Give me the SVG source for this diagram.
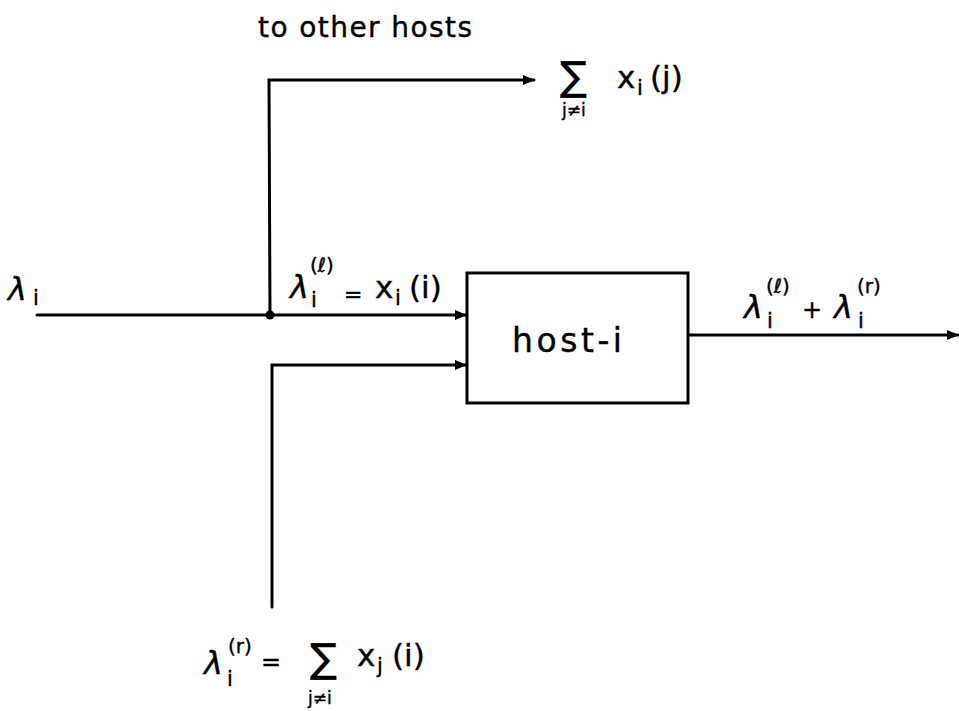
<svg xmlns="http://www.w3.org/2000/svg" width="959" height="711" viewBox="0 0 959 711">
<style>
  .ln { fill: none; stroke: #000; stroke-width: 3; stroke-linecap: round; stroke-linejoin: miter; }
  .t { font-family: "DejaVu Sans", "Liberation Sans", sans-serif; fill: #000; stroke: #000; stroke-width: 0.4; }
  .m { font-size: 31px; }
  .l { font-size: 32px; font-style: italic; }
  .sup { font-size: 20px; }
  .sub { font-size: 21px; }
  .sm { font-size: 17px; }
  .sum { font-size: 40px; }
</style>
<defs>
  <marker id="arr" viewBox="0 0 12 10" refX="11" refY="5" markerWidth="13" markerHeight="10" markerUnits="userSpaceOnUse" orient="auto">
    <path d="M0,0 L12,5 L0,10 Z" fill="#000"/>
  </marker>
</defs>
<rect width="959" height="711" fill="#fff"/>

<g id="connectors">
  <line class="ln" x1="37" y1="315" x2="466" y2="315" marker-end="url(#arr)"/>
  <polyline class="ln" points="270,315 269,80 534,80" marker-end="url(#arr)"/>
  <polyline class="ln" points="272,607 272,365 466,365" marker-end="url(#arr)"/>
  <line class="ln" x1="688" y1="335" x2="958" y2="335" marker-end="url(#arr)"/>
  <circle cx="270" cy="315" r="4.5" fill="#000"/>
</g>

<g id="host-i">
  <rect x="467" y="273" width="221" height="130" fill="#fff" stroke="#000" stroke-width="3"/>
  <text class="t" x="512" y="352" font-size="33" textLength="110">host-i</text>
</g>

<g id="label-other-hosts">
  <text class="t" x="258" y="37" font-size="28" textLength="214">to other hosts</text>
  <text class="t sum" x="560" y="90">∑</text>
  <text class="t m" x="617" y="88">x</text>
  <text class="t sub" x="637" y="95">i</text>
  <text class="t m" x="650" y="88">(j)</text>
  <text class="t sm" x="562" y="116">j≠i</text>
</g>

<g id="label-lambda-i">
  <text class="t l" x="8" y="300">λ</text>
  <text class="t sub" x="33" y="305">i</text>
</g>

<g id="label-lambda-l">
  <text class="t l" x="290" y="298">λ</text>
  <text class="t sup" x="310" y="272">(ℓ)</text>
  <text class="t sub" x="311" y="307">i</text>
  <text class="t" x="344" y="302" font-size="22">=</text>
  <text class="t m" x="375" y="298">x</text>
  <text class="t sub" x="395" y="305">i</text>
  <text class="t m" x="409" y="298">(i)</text>
</g>

<g id="label-output">
  <text class="t l" x="744" y="318">λ</text>
  <text class="t sup" x="766" y="293">(ℓ)</text>
  <text class="t sub" x="767" y="328">i</text>
  <text class="t" x="802" y="318" font-size="24">+</text>
  <text class="t l" x="834" y="318">λ</text>
  <text class="t sup" x="857" y="293">(r)</text>
  <text class="t sub" x="858" y="328">i</text>
</g>

<g id="label-lambda-r">
  <text class="t l" x="204" y="674">λ</text>
  <text class="t sup" x="228" y="653">(r)</text>
  <text class="t sub" x="227" y="686">i</text>
  <text class="t" x="261" y="670" font-size="24">=</text>
  <text class="t sum" x="310" y="672">∑</text>
  <text class="t m" x="357" y="666">x</text>
  <text class="t sub" x="377" y="673">j</text>
  <text class="t m" x="392" y="666">(i)</text>
  <text class="t sm" x="308" y="704">j≠i</text>
</g>
</svg>
